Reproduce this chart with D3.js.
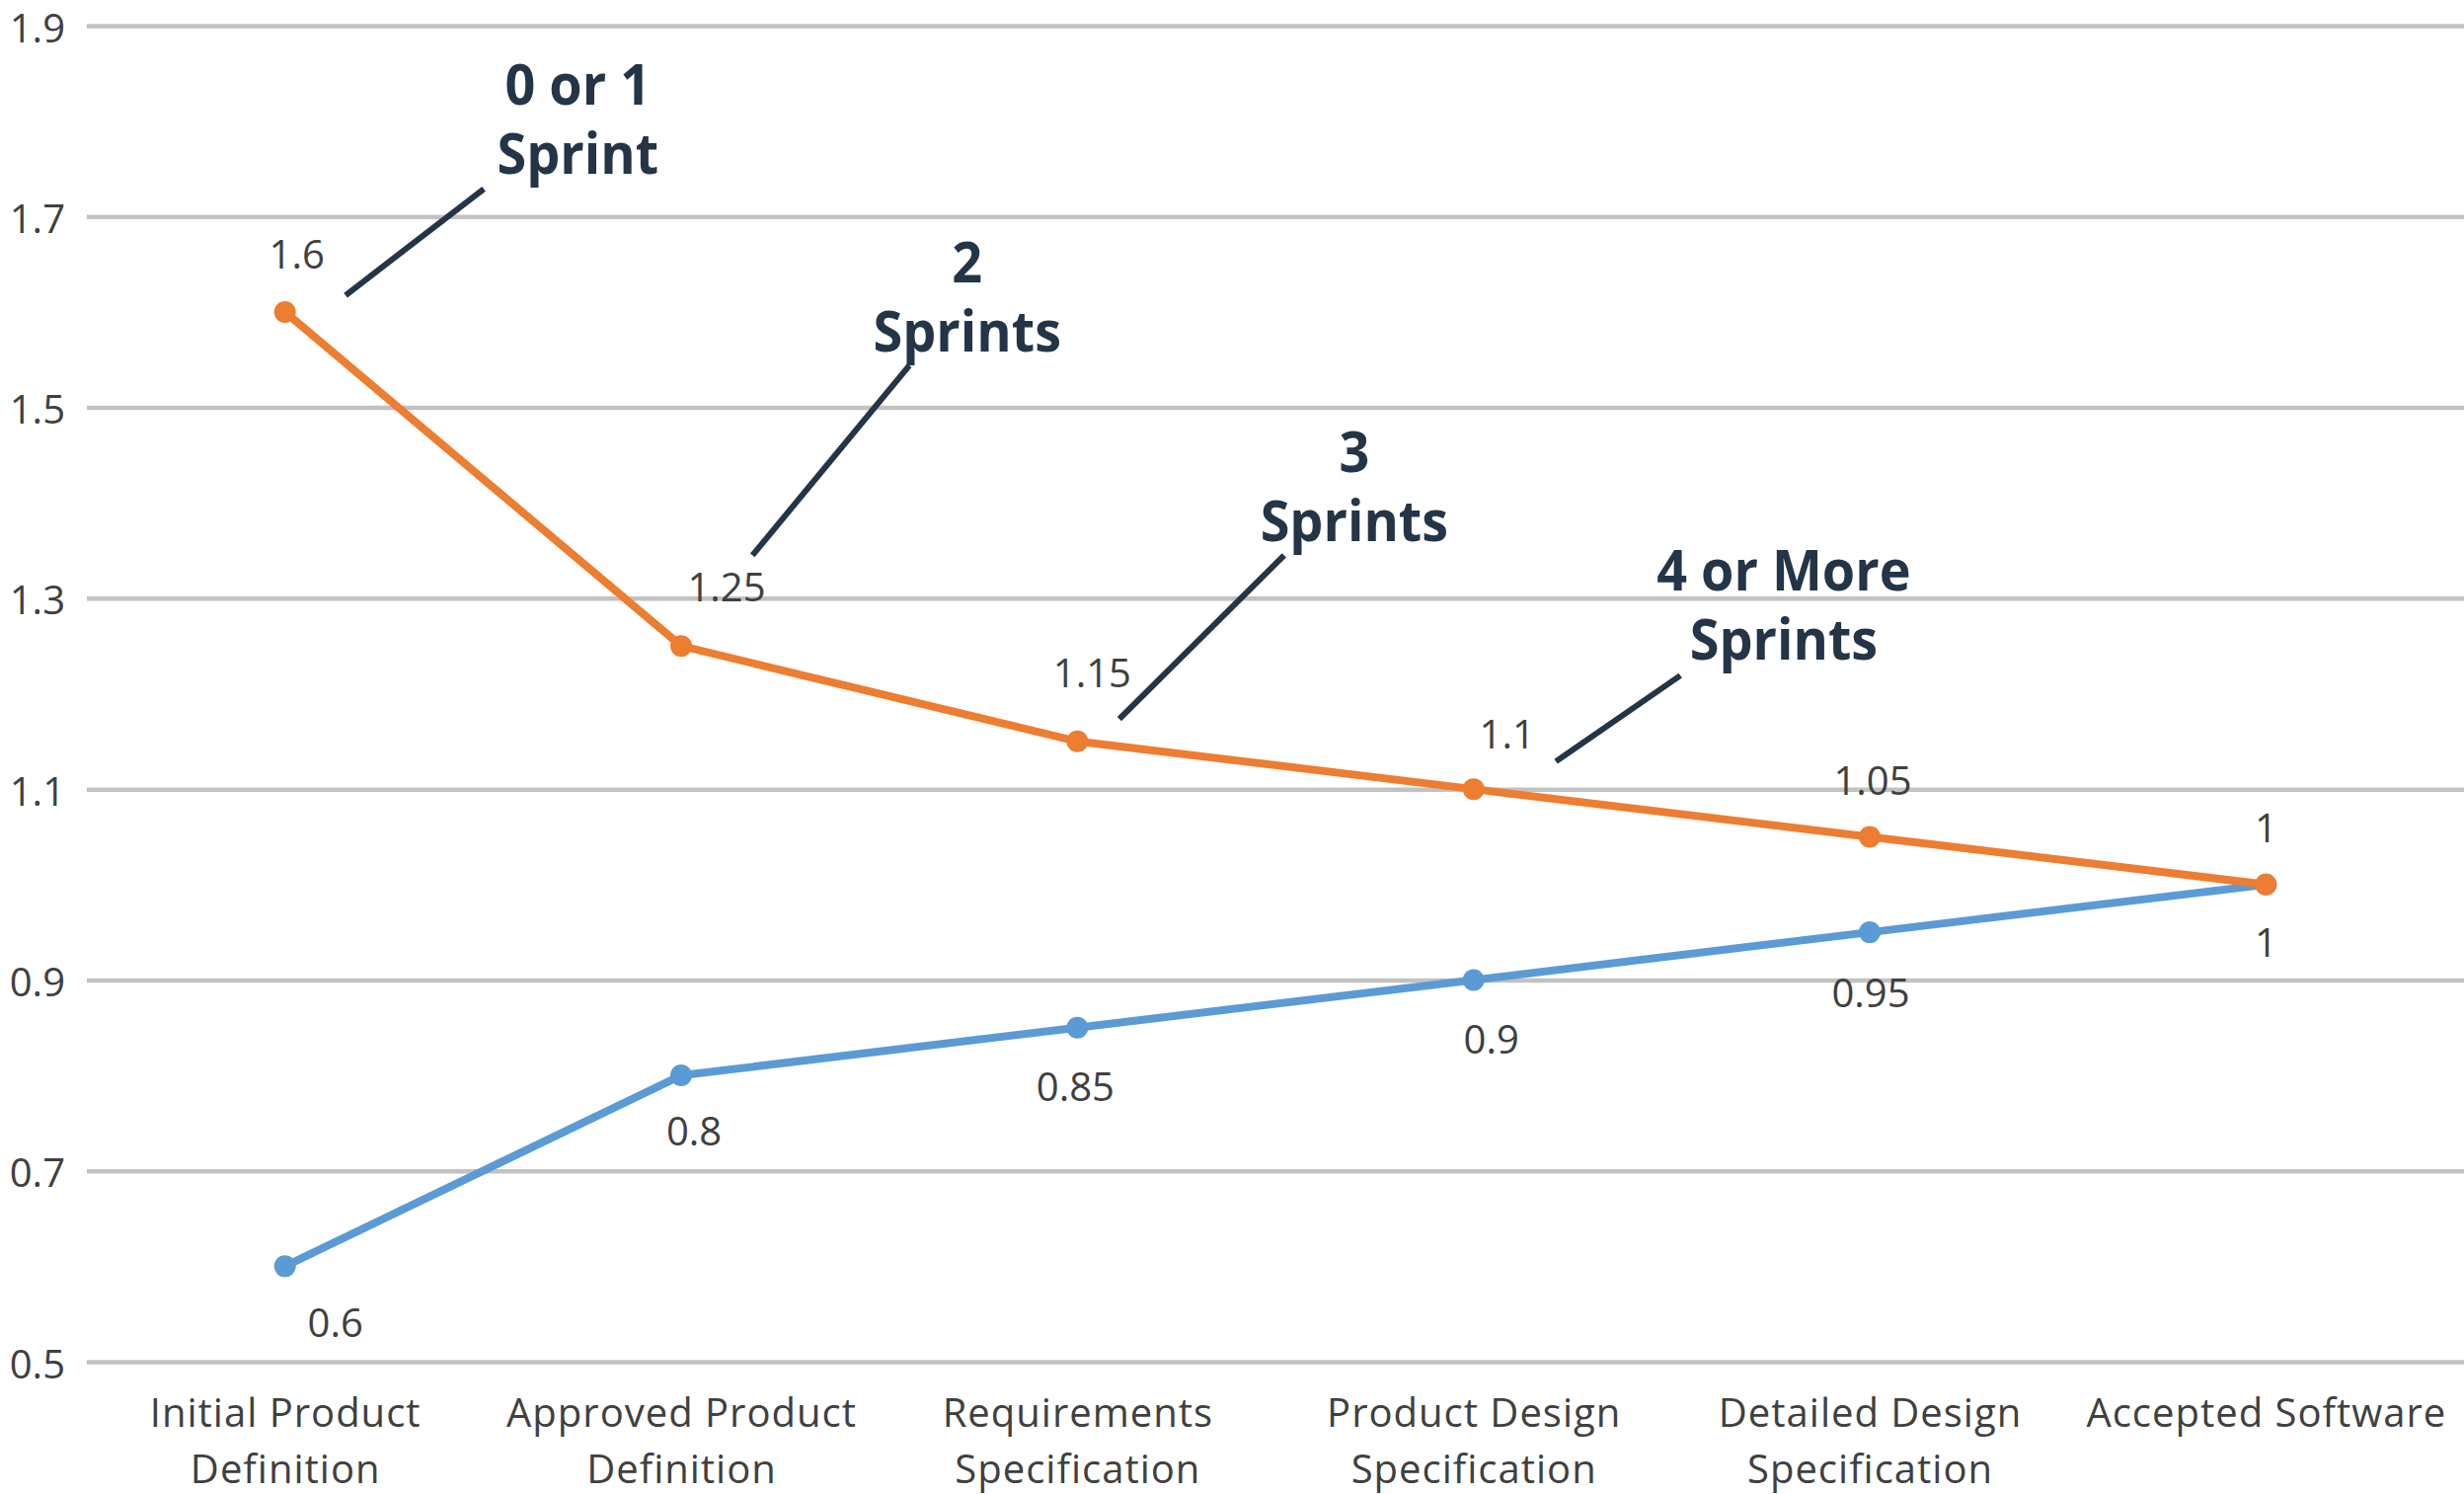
<!DOCTYPE html>
<html>
<head>
<meta charset="utf-8">
<script src="https://cdn.jsdelivr.net/npm/d3@7"></script>
<style>
  html, body { margin: 0; padding: 0; background: #ffffff; overflow: hidden; }
  svg { display: block; }
</style>
</head>
<body>
<svg id="chart" width="2496" height="1513"></svg>
<script>
// ---------------- DATA ----------------
const categories = [
  "Initial Product\nDefinition",
  "Approved Product\nDefinition",
  "Requirements\nSpecification",
  "Product Design\nSpecification",
  "Detailed Design\nSpecification",
  "Accepted Software"
];
const upperSeries = [1.6, 1.25, 1.15, 1.1, 1.05, 1];
const lowerSeries = [0.6, 0.8, 0.85, 0.9, 0.95, 1];
const yTickValues = [0.5, 0.7, 0.9, 1.1, 1.3, 1.5, 1.7, 1.9];
const annotationTexts = [
  ["0 or 1", "Sprint"],
  ["2", "Sprints"],
  ["3", "Sprints"],
  ["4 or More", "Sprints"]
];

// ---------------- LAYOUT / STYLE ----------------
const W = 2496, H = 1513;
const plot = { left: 88, right: 2496, top: 26, bottom: 1379 };
const COLOR_UPPER = "#ED7D31";
const COLOR_LOWER = "#5B9BD5";
const COLOR_ANNOT = "#233547";
const COLOR_TEXT = "#404040";
const GRID = "#c2c2c2";
const FONT = "'Open Sans', 'DejaVu Sans', sans-serif";

// label nudges (pixels), as laid out in the original
const upperLabelNudge = [[12, -44], [46, -45], [15, -55], [34, -41], [3, -42], [0, -43]];
const lowerLabelNudge = [[51, 72], [13, 71], [-2, 74], [18, 75], [1, 76], [0, 73]];

// annotation placement in data space: [category-index position, value]
const annotationPlace = [
  { text: [0.739, 1.817], from: [0.502, 1.729], to: [0.153, 1.6175] },
  { text: [1.722, 1.631], from: [1.576, 1.544], to: [1.180, 1.345] },
  { text: [2.699, 1.432], from: [2.522, 1.345], to: [2.106, 1.1736] },
  { text: [3.783, 1.308], from: [3.522, 1.219], to: [3.208, 1.129] }
];

// ---------------- SCALES ----------------
const x = d3.scalePoint().domain(categories).range([plot.left, plot.right]).padding(0.5);
const y = d3.scaleLinear().domain([0.5, 1.9]).range([plot.bottom, plot.top]);
const xi = i => x(categories[0]) + i * x.step();

const svg = d3.select("#chart");
svg.append("rect").attr("width", W).attr("height", H).attr("fill", "#ffffff");

// ---------------- Y AXIS + GRID ----------------
const yAxis = d3.axisLeft(y)
  .tickValues(yTickValues)
  .tickSize(-(plot.right - plot.left))
  .tickPadding(22)
  .tickFormat(d => d.toFixed(1));

svg.append("g")
  .attr("transform", `translate(${plot.left},0)`)
  .call(yAxis)
  .call(g => g.select(".domain").remove())
  .call(g => g.selectAll(".tick line").attr("stroke", GRID).attr("stroke-width", 4.5))
  .call(g => g.selectAll(".tick text")
    .attr("fill", COLOR_TEXT)
    .attr("font-family", FONT)
    .attr("font-size", 40)
    .attr("dy", "0.4em"));

// ---------------- X AXIS ----------------
const xAxis = d3.axisBottom(x).tickSize(0).tickPadding(0).tickFormat("");
const xg = svg.append("g")
  .attr("transform", `translate(0,${plot.bottom})`)
  .call(xAxis)
  .call(g => g.select(".domain").remove());

xg.selectAll(".tick").each(function(d) {
  const lines = d.split("\n");
  const t = d3.select(this).append("text")
    .attr("fill", COLOR_TEXT)
    .attr("font-family", FONT)
    .attr("font-size", 40)
    .attr("letter-spacing", 1)
    .attr("text-anchor", "middle");
  lines.forEach((ln, k) => {
    t.append("tspan").attr("x", 0).attr("y", 66 + k * 57).text(ln);
  });
});

// ---------------- LINES ----------------
function drawSeries(values, color) {
  svg.append("path")
    .datum(values)
    .attr("fill", "none")
    .attr("stroke", color)
    .attr("stroke-width", 8)
    .attr("stroke-linejoin", "round")
    .attr("d", d3.line().x((d, i) => x(categories[i])).y(d => y(d)));
  svg.append("g").selectAll("circle")
    .data(values)
    .join("circle")
    .attr("cx", (d, i) => x(categories[i]))
    .attr("cy", d => y(d))
    .attr("r", 11)
    .attr("fill", color);
}
drawSeries(lowerSeries, COLOR_LOWER);
drawSeries(upperSeries, COLOR_UPPER);

// ---------------- DATA LABELS ----------------
function drawLabels(values, nudges) {
  svg.append("g").selectAll("text")
    .data(values)
    .join("text")
    .attr("x", (d, i) => x(categories[i]) + nudges[i][0])
    .attr("y", (d, i) => y(d) + nudges[i][1])
    .attr("text-anchor", "middle")
    .attr("font-family", FONT)
    .attr("font-size", 40)
    .attr("fill", COLOR_TEXT)
    .text(d => String(d));
}
drawLabels(lowerSeries, lowerLabelNudge);
drawLabels(upperSeries, upperLabelNudge);

// ---------------- ANNOTATIONS ----------------
annotationPlace.forEach((a, k) => {
  svg.append("line")
    .attr("x1", xi(a.from[0])).attr("y1", y(a.from[1]))
    .attr("x2", xi(a.to[0])).attr("y2", y(a.to[1]))
    .attr("stroke", COLOR_ANNOT)
    .attr("stroke-width", 6);
  const tx = xi(a.text[0]), ty = y(a.text[1]);
  const t = svg.append("text")
    .attr("transform", `translate(${tx},${ty}) scale(0.93,1)`)
    .attr("text-anchor", "middle")
    .attr("font-family", FONT)
    .attr("font-weight", 700)
    .attr("font-size", 58)
    .attr("fill", COLOR_ANNOT);
  annotationTexts[k].forEach((ln, j) => {
    t.append("tspan").attr("x", 0).attr("y", j * 70).text(ln);
  });
});
</script>
</body>
</html>
